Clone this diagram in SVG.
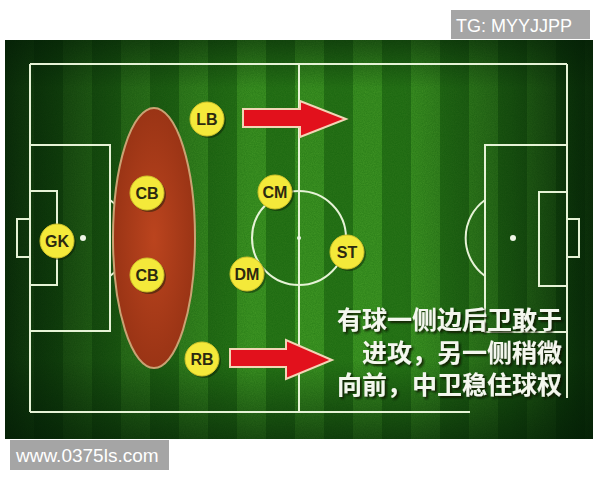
<svg xmlns="http://www.w3.org/2000/svg" width="600" height="480" viewBox="0 0 600 480">
<defs>
  <pattern id="stripes" x="5" y="0" width="58" height="480" patternUnits="userSpaceOnUse">
    <rect x="0" y="0" width="29" height="480" fill="#46a028"/>
    <rect x="29" y="0" width="29" height="480" fill="#2e7c1b"/>
  </pattern>
  <linearGradient id="vigH" x1="0" y1="0" x2="1" y2="0">
    <stop offset="0" stop-color="#021a05" stop-opacity="0.85"/>
    <stop offset="0.2" stop-color="#021a05" stop-opacity="0.35"/>
    <stop offset="0.42" stop-color="#021a05" stop-opacity="0"/>
    <stop offset="0.68" stop-color="#021a05" stop-opacity="0"/>
    <stop offset="0.86" stop-color="#021a05" stop-opacity="0.4"/>
    <stop offset="1" stop-color="#021a05" stop-opacity="0.85"/>
  </linearGradient>
  <linearGradient id="vigV" x1="0" y1="0" x2="0" y2="1">
    <stop offset="0" stop-color="#021a05" stop-opacity="0.55"/>
    <stop offset="0.12" stop-color="#021a05" stop-opacity="0.1"/>
    <stop offset="0.8" stop-color="#021a05" stop-opacity="0.05"/>
    <stop offset="1" stop-color="#021a05" stop-opacity="0.6"/>
  </linearGradient>
  <radialGradient id="ellFill" cx="0.5" cy="0.5" r="0.5">
    <stop offset="0" stop-color="#bb441e"/>
    <stop offset="1" stop-color="#9a3415"/>
  </radialGradient>
  <filter id="grain" x="0" y="0" width="1" height="1">
    <feTurbulence type="fractalNoise" baseFrequency="0.9" numOctaves="2" seed="3" result="n"/>
    <feColorMatrix type="matrix" values="0 0 0 0 0  0 0 0 0 0.1  0 0 0 0 0  0 0 0 0.45 0"/>
  </filter>
  <filter id="txtShadow" x="-5%" y="-20%" width="110%" height="140%">
    <feDropShadow dx="2" dy="2" stdDeviation="1" flood-color="#071405" flood-opacity="0.9"/>
  </filter>
  <style>
    .line{fill:none;stroke:#e6f3d6;stroke-width:2}
    .spot{fill:#eef6e6}
    .pl circle.ball{fill:#f4e93a;stroke:#cfc22a;stroke-width:1}
    .pl circle.sh{fill:#0a1a05;opacity:0.45}
    .pl text{font-family:"Liberation Sans","DejaVu Sans",sans-serif;font-weight:bold;font-size:16px;fill:#2c2a10;text-anchor:middle}
    .arrow{fill:#e2111c;stroke:#f2d5b5;stroke-width:2;stroke-linejoin:miter}
    .cap{font-family:"Noto Sans CJK SC","Noto Sans CJK JP",sans-serif;font-size:25px;font-weight:bold;text-anchor:end;fill:#f4f7ee}
    .wm{font-family:"Liberation Sans","Arial",sans-serif;fill:#ffffff}
  </style>
</defs>
<rect width="600" height="480" fill="#ffffff"/>
<g id="pitch">
  <rect x="5" y="40" width="588" height="399" fill="url(#stripes)"/>
  <rect x="5" y="40" width="588" height="399" fill="#000" filter="url(#grain)" opacity="0.8"/>
  <rect x="5" y="40" width="588" height="399" fill="url(#vigH)"/>
  <rect x="5" y="40" width="588" height="399" fill="url(#vigV)"/>
  <line class="line" x1="30" y1="64" x2="567" y2="64"/>
  <line class="line" x1="30" y1="64" x2="30" y2="412"/>
  <line class="line" x1="30" y1="412" x2="470" y2="412"/>
  <line class="line" x1="567" y1="64" x2="567" y2="398"/>
  <line class="line" x1="299" y1="64" x2="299" y2="412"/>
  <circle class="line" cx="299" cy="238" r="47"/>
  <circle class="spot" cx="299" cy="238" r="2"/>
  <rect class="line" x="30" y="145" width="80" height="186"/>
  <rect class="line" x="30" y="191" width="27" height="94"/>
  <rect class="line" x="17" y="219" width="13" height="38"/>
  <path class="line" d="M110,200 A47,47 0 0 1 110,276"/>
  <circle class="spot" cx="83" cy="238" r="3"/>
  <rect class="line" x="485" y="145" width="82" height="187"/>
  <rect class="line" x="539" y="192" width="28" height="94"/>
  <rect class="line" x="567" y="219" width="12" height="38"/>
  <path class="line" d="M485,200 A47,47 0 0 0 485,276"/>
  <circle class="spot" cx="513" cy="238" r="3"/>
</g>
<g id="defense-zone">
  <ellipse cx="154" cy="238" rx="41" ry="130" fill="url(#ellFill)" stroke="#c9a273" stroke-width="2"/>
</g>
<g id="connectors">
  <polygon class="arrow" points="243,109 300,109 300,101 346,119 300,137 300,127 243,127"/>
  <polygon class="arrow" points="230,349 286,349 286,340 332,360 286,379 286,367 230,367"/>
</g>
<g id="node-LB" class="pl"><circle class="sh" cx="209" cy="121" r="17"/><circle class="ball" cx="207" cy="119" r="17"/><text x="207" y="125">LB</text></g>
<g id="node-CB1" class="pl"><circle class="sh" cx="149" cy="195" r="17"/><circle class="ball" cx="147" cy="193" r="17"/><text x="147" y="199">CB</text></g>
<g id="node-CB2" class="pl"><circle class="sh" cx="149" cy="277" r="17"/><circle class="ball" cx="147" cy="275" r="17"/><text x="147" y="281">CB</text></g>
<g id="node-GK" class="pl"><circle class="sh" cx="59" cy="243" r="17"/><circle class="ball" cx="57" cy="241" r="17"/><text x="57" y="247">GK</text></g>
<g id="node-CM" class="pl"><circle class="sh" cx="277" cy="194" r="17"/><circle class="ball" cx="275" cy="192" r="17"/><text x="275" y="198">CM</text></g>
<g id="node-DM" class="pl"><circle class="sh" cx="249" cy="276" r="17"/><circle class="ball" cx="247" cy="274" r="17"/><text x="247" y="280">DM</text></g>
<g id="node-ST" class="pl"><circle class="sh" cx="349" cy="254" r="17"/><circle class="ball" cx="347" cy="252" r="17"/><text x="347" y="258">ST</text></g>
<g id="node-RB" class="pl"><circle class="sh" cx="204" cy="361" r="17"/><circle class="ball" cx="202" cy="359" r="17"/><text x="202" y="365">RB</text></g>
<g id="caption" class="cap" filter="url(#txtShadow)">
  <text x="562" y="329">有球一侧边后卫敢于</text>
  <text x="562" y="362">进攻，另一侧稍微</text>
  <text x="562" y="394">向前，中卫稳住球权</text>
</g>
<g id="wm-tg">
  <rect x="451" y="10" width="139" height="29" fill="#a5a5a5"/>
  <text class="wm" x="456" y="32" font-size="18">TG: MYYJJPP</text>
</g>
<g id="wm-site">
  <rect x="10" y="440" width="159" height="30" fill="#a5a5a5"/>
  <text class="wm" x="16" y="462" font-size="19">www.0375ls.com</text>
</g>
</svg>
